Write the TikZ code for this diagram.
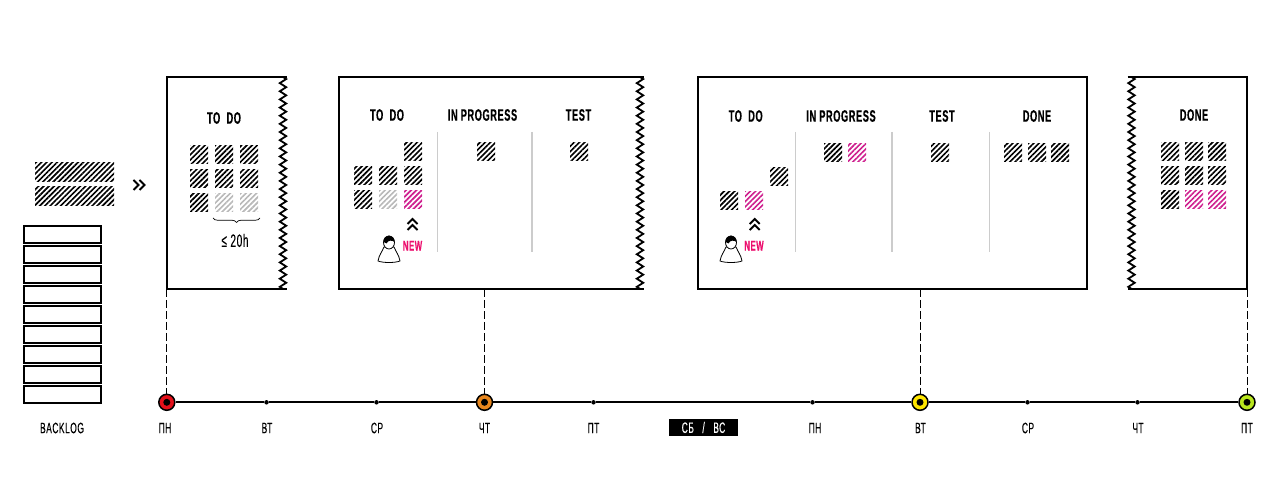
\documentclass[tikz,border=0pt]{standalone}
\usepackage{fontspec}
\setmainfont[FakeStretch=0.56,LetterSpace=3.5,FakeBold=0.25]{Liberation Sans}
\usetikzlibrary{patterns.meta,decorations.pathmorphing,decorations.pathreplacing}

\definecolor{tagpink}{HTML}{EC0F6E}
\definecolor{cardpink}{HTML}{CE1F8E}
\definecolor{sepgray}{HTML}{CCCCCC}
\definecolor{dayred}{HTML}{E3101A}
\definecolor{dayorange}{HTML}{E8871E}
\definecolor{dayyellow}{HTML}{FFE600}
\definecolor{daylime}{HTML}{B9E61E}

\tikzset{
  hatch/.style={inner sep=0pt, pattern={Lines[angle=45,distance=3.7pt,line width=1.65pt]}},
  card/.style={hatch, minimum size=18pt, pattern color=black},
  greycard/.style={card, pattern color=black!28},
  pinkcard/.style={card, pattern color=cardpink},
  bar/.style={hatch, minimum width=79pt, minimum height=19pt, pattern color=black},
  logbox/.style={draw, line width=2pt, inner sep=0pt, minimum width=77pt, minimum height=17pt},
  frameline/.style={line width=2pt},
  zigline/.style={line width=1.8pt, decorate, decoration={zigzag,segment length=8.15pt,amplitude=3.2pt}},
  sep/.style={sepgray, line width=1.2pt},
  head/.style={font=\bfseries\fontsize{16.5}{17}\selectfont, inner sep=0pt},
  day/.style={font=\fontsize{15}{16}\selectfont, inner sep=0pt},
  newtag/.style={font=\bfseries\fontsize{14}{15}\selectfont, text=tagpink, inner sep=0pt},
  tick/.style={circle, fill=black, inner sep=0pt, minimum size=4.5pt},
  bigday/.style={circle, draw, line width=1.5pt, inner sep=0pt, minimum size=16pt},
  guide/.style={line width=0.8pt, dash pattern=on 8pt off 3pt},
  chevrons/.pic={
    \draw[line width=2pt, miter limit=4] (-6,-5) -- (-1,0) -- (-6,5);
    \draw[line width=2pt, miter limit=4] (0,-5) -- (5,0) -- (0,5);
  },
  person/.pic={
    \draw[line width=0.8pt, fill=white] (-11,-2) .. controls (-10,-8) and (-7,-11) .. (-5,-16)
      -- (5,-16) .. controls (7,-11) and (10,-8) .. (11,-2)
      .. controls (6,0) and (-6,0) .. (-11,-2) -- cycle;
    \draw[line width=0.8pt, fill=white] (0,-20.5) ellipse (5.5 and 6.5);
    \fill (-5.5,-21) .. controls (-5.5,-29.5) and (5.5,-29.5) .. (5.5,-21)
      .. controls (3,-23) and (-1,-23) .. (-2.5,-19.5) -- cycle;
  }
}

\begin{document}
\begin{tikzpicture}[x=1pt, y=-1pt]

    \useasboundingbox (0, 0) rectangle (1280, 502);

    % backlog
    \node[bar] (b1) at (74.5, 172.5) {};
    \node[bar] (b2) at (74.5, 196.5) {};
    \pic at (139.5, 185) {chevrons};
    \node[logbox] (l1) at (62, 234.5) {};
    \node[logbox] (l2) at (62, 254.5) {};
    \node[logbox] (l3) at (62, 274.5) {};
    \node[logbox] (l4) at (62, 294.5) {};
    \node[logbox] (l5) at (62, 314.5) {};
    \node[logbox] (l6) at (62, 334.5) {};
    \node[logbox] (l7) at (62, 354.5) {};
    \node[logbox] (l8) at (62, 374.5) {};
    \node[logbox] (l9) at (62, 394.5) {};
    \node[day] (backlog) at (62, 428) {BACKLOG};

    % first panel
    \draw[frameline] (287, 77) -- (166.8, 77) -- (166.8, 289) -- (287, 289);
    \draw[zigline] (283, 77) -- (283, 289);
    \coordinate (f1) at (166.8, 289);
    \node[head] (h1) at (224, 118) {TO\ \ DO};
    \node[card] (a1) at (199, 155) {};
    \node[card] (a2) at (224, 155) {};
    \node[card] (a3) at (249, 155) {};
    \node[card] (a4) at (199, 179) {};
    \node[card] (a5) at (224, 179) {};
    \node[card] (a6) at (249, 179) {};
    \node[card] (a7) at (199, 203) {};
    \node[greycard] (a8) at (224, 203) {};
    \node[greycard] (a9) at (249, 203) {};
    \coordinate (s1) at (213, 218);
    \coordinate (s2) at (260, 218);
    \draw[line width=0.7pt, decorate, decoration={brace,mirror,amplitude=4.5pt}] (s1) -- (s2);
    \node[font=\fontsize{18}{19}\selectfont, inner sep=0pt] (lim) at (235, 240.5) {≤ 20h};

    % second panel
    \draw[frameline] (643.5, 77) -- (338.5, 77) -- (338.5, 289) -- (643.5, 289);
    \draw[zigline] (640, 77) -- (640, 289);
    \coordinate (f2) at (484.5, 289);
    \node[head] (h2) at (387, 115) {TO\ \ DO};
    \node[head] (h3) at (482.5, 115) {IN PROGRESS};
    \node[head] (h4) at (578.5, 115) {TEST};
    \draw[sep] (437.3, 132) -- (437.3, 252);
    \draw[sep] (532, 132) -- (532, 252);
    \node[card] (c1) at (413, 152) {};
    \node[card] (c2) at (363, 176) {};
    \node[card] (c3) at (388, 176) {};
    \node[card] (c4) at (413, 176) {};
    \node[card] (c5) at (363, 200) {};
    \node[greycard] (c6) at (388, 200) {};
    \node[pinkcard] (c7) at (413, 200) {};
    \node[card] (c8) at (486, 152) {};
    \node[card] (c9) at (579, 152) {};
    \pic[rotate=90] at (412.5, 224) {chevrons};
    \node[newtag] (new1) at (412.5, 245.7) {NEW};
    \pic at (389, 263) {person};

    % third panel
    \draw[frameline] (697.7, 77) rectangle (1086.5, 289);
    \coordinate (f3) at (920, 289);
    \node[head] (h5) at (745.7, 116) {TO\ \ DO};
    \node[head] (h6) at (841, 116) {IN PROGRESS};
    \node[head] (h7) at (942, 116) {TEST};
    \node[head] (h8) at (1037, 116) {DONE};
    \draw[sep] (795.3, 132) -- (795.3, 252);
    \draw[sep] (892, 132) -- (892, 252);
    \draw[sep] (989.3, 132) -- (989.3, 252);
    \node[card] (d1) at (779, 177) {};
    \node[card] (d2) at (729, 201) {};
    \node[pinkcard] (d3) at (754, 201) {};
    \node[card] (d4) at (833, 153) {};
    \node[pinkcard] (d5) at (857, 153) {};
    \node[card] (d6) at (940, 153) {};
    \node[card] (d7) at (1013, 153) {};
    \node[card] (d8) at (1037, 153) {};
    \node[card] (d9) at (1060, 153) {};
    \pic[rotate=90] at (754.7, 224) {chevrons};
    \node[newtag] (new2) at (754, 245.7) {NEW};
    \pic at (731, 263) {person};

    % last panel
    \draw[frameline] (1127.5, 77) -- (1247, 77) -- (1247, 289) -- (1127.5, 289);
    \draw[zigline] (1131.5, 77) -- (1131.5, 289);
    \coordinate (f4) at (1247, 289);
    \node[head] (h9) at (1194, 115) {DONE};
    \node[card] (e1) at (1170, 152) {};
    \node[card] (e2) at (1194, 152) {};
    \node[card] (e3) at (1217, 152) {};
    \node[card] (e4) at (1170, 176) {};
    \node[card] (e5) at (1194, 176) {};
    \node[card] (e6) at (1217, 176) {};
    \node[card] (e7) at (1170, 200) {};
    \node[pinkcard] (e8) at (1194, 200) {};
    \node[pinkcard] (e9) at (1217, 200) {};

    % timeline
    \node[bigday, fill=dayred] (t1) at (166.8, 402.3) {};
    \node[tick] (t2) at (266.5, 402.3) {};
    \node[tick] (t3) at (376.5, 402.3) {};
    \node[bigday, fill=dayorange] (t4) at (484.5, 402.3) {};
    \node[tick] (t5) at (593.5, 402.3) {};
    \node[tick] (t6) at (812.5, 402.3) {};
    \node[bigday, fill=dayyellow] (t7) at (920, 402.3) {};
    \node[tick] (t8) at (1027.5, 402.3) {};
    \node[tick] (t9) at (1137.5, 402.3) {};
    \node[bigday, fill=daylime] (t10) at (1247, 402.3) {};

    \draw[line width=2pt] (t1) to (t2);
    \draw[line width=2pt] (t2) to (t3);
    \draw[line width=2pt] (t3) to (t4);
    \draw[line width=2pt] (t4) to (t5);
    \draw[line width=2pt] (t5) to (t6);
    \draw[line width=2pt] (t6) to (t7);
    \draw[line width=2pt] (t7) to (t8);
    \draw[line width=2pt] (t8) to (t9);
    \draw[line width=2pt] (t9) to (t10);

    \draw[guide] (f1) to (t1);
    \draw[guide] (f2) to (t4);
    \draw[guide] (f3) to (t7);
    \draw[guide] (f4) to (t10);

    \node[tick, minimum size=7pt] (k1) at (t1) {};
    \node[tick, minimum size=7pt] (k2) at (t4) {};
    \node[tick, minimum size=7pt] (k3) at (t7) {};
    \node[tick, minimum size=7pt] (k4) at (t10) {};

    \node[day] (n1) at (165, 428) {ПН};
    \node[day] (n2) at (267, 428) {ВТ};
    \node[day] (n3) at (377, 428) {СР};
    \node[day] (n4) at (484.5, 428) {ЧТ};
    \node[day] (n5) at (593.5, 428) {ПТ};
    \node[day, fill=black, text=white, minimum width=69pt, minimum height=17pt] (n6) at (703.5, 427.5) {СБ\ \ \ /\ \ \ ВС};
    \node[day] (n7) at (815, 428) {ПН};
    \node[day] (n8) at (920.5, 428) {ВТ};
    \node[day] (n9) at (1028, 428) {СР};
    \node[day] (n10) at (1138, 428) {ЧТ};
    \node[day] (n11) at (1247, 428) {ПТ};

  \end{tikzpicture}
\end{document}
